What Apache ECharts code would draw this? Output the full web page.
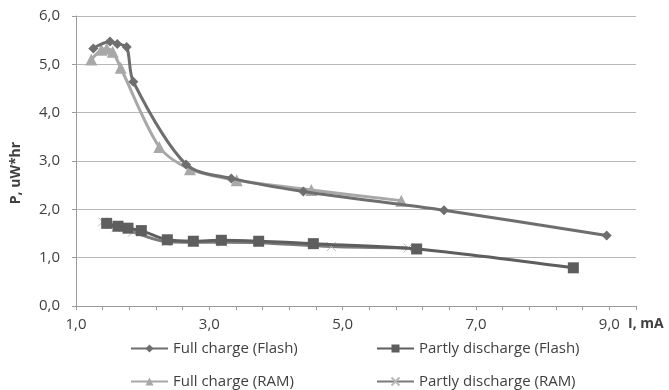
<!DOCTYPE html>
<html>
<head>
<meta charset="utf-8">
<script src="https://cdn.jsdelivr.net/npm/echarts@6/dist/echarts.min.js"></script>
<style>
  html, body { margin: 0; padding: 0; background: #fff; }
  #chart { width: 669px; height: 390px; }
</style>
</head>
<body>
<div id="chart"></div>
<script>
const FONT = "'Open Sans', 'Noto Sans', sans-serif"

// [I, mA ; P, uW*hr]
const fullFlash = [[1.26, 5.33], [1.51, 5.47], [1.62, 5.42], [1.76, 5.36], [1.86, 4.64],
  [2.65, 2.93], [3.33, 2.64], [4.41, 2.37], [6.52, 1.98], [8.96, 1.46]]
const partFlash = [[1.46, 1.71], [1.63, 1.65], [1.78, 1.61], [1.98, 1.56], [2.37, 1.37],
  [2.76, 1.34], [3.18, 1.36], [3.74, 1.34], [4.56, 1.29], [6.11, 1.18], [8.46, 0.79]]
const fullRam = [[1.23, 5.1], [1.38, 5.3], [1.46, 5.32], [1.55, 5.26], [1.67, 4.93],
  [2.25, 3.29], [2.71, 2.83], [3.41, 2.6], [4.53, 2.4], [5.88, 2.18]]
const partRam = [[1.4, 1.74], [1.6, 1.62], [1.85, 1.53], [2.35, 1.33], [2.75, 1.32],
  [3.2, 1.32], [3.75, 1.31], [4.83, 1.23], [5.98, 1.2]]

const names = ['Full charge (Flash)', 'Partly discharge (Flash)', 'Full charge (RAM)', 'Partly discharge (RAM)']

const fmt = v => v.toFixed(1).replace('.', ',')
const TXT = '#404040'

function legendAt(name, left, top) {
  return {
    data: [name], left, top, padding: 0, itemGap: 0,
    itemWidth: 37, itemHeight: 10,
    textStyle: { fontFamily: FONT, fontSize: 15, color: TXT }
  }
}

const chart = echarts.init(document.getElementById('chart'))
chart.setOption({
  animation: false,
  textStyle: { fontFamily: FONT },
  grid: { left: 76, right: 33, top: 16, bottom: 84, containLabel: false },
  legend: [
    legendAt(names[0], 130, 341),
    legendAt(names[1], 376, 341),
    legendAt(names[2], 130, 374),
    legendAt(names[3], 376, 374)
  ],
  xAxis: {
    type: 'value', min: 1, max: 9.4, interval: 0.4,
    axisLine: { lineStyle: { color: '#9a9a9a', width: 1 } },
    axisTick: { show: true, length: 4, lineStyle: { color: '#9a9a9a' } },
    splitLine: { show: false },
    axisLabel: {
      fontFamily: FONT, fontSize: 15, color: TXT, margin: 11,
      formatter: v => {
        const r = Math.round(v)
        return Math.abs(v - r) < 1e-6 && r % 2 === 1 ? fmt(r) : ''
      }
    }
  },
  yAxis: {
    type: 'value', min: 0, max: 6, interval: 1,
    axisLine: { show: true, lineStyle: { color: '#9a9a9a', width: 1 } },
    axisTick: { show: true, length: 4, lineStyle: { color: '#9a9a9a' } },
    splitLine: { lineStyle: { color: '#b8b8b8', width: 1 } },
    axisLabel: { fontFamily: FONT, fontSize: 15, color: TXT, margin: 16, formatter: v => fmt(v) }
  },
  graphic: [
    {
      type: 'text', x: 16, y: 173, rotation: Math.PI / 2,
      style: { text: 'P, uW*hr', fontFamily: FONT, fontSize: 14, fontWeight: 'bold', fill: TXT, align: 'center', verticalAlign: 'middle' }
    },
    {
      type: 'text', left: 628, top: 317,
      style: { text: 'I, mA', fontFamily: FONT, fontSize: 14, fontWeight: 'bold', fill: TXT }
    }
  ],
  series: [
    {
      name: names[3], type: 'line', data: partRam, smooth: 0.3,
      symbol: 'path://M0,0L10,10M10,0L0,10', symbolSize: 9,
      lineStyle: { color: '#7a7a7a', width: 3 },
      itemStyle: { color: '#7a7a7a', borderColor: '#b8b8b8', borderWidth: 1 }, z: 2
    },
    {
      name: names[2], type: 'line', data: fullRam, smooth: 0.3,
      symbol: 'triangle', symbolSize: 12,
      lineStyle: { color: '#a8a8a8', width: 3 },
      itemStyle: { color: '#a8a8a8' }, z: 3
    },
    {
      name: names[0], type: 'line', data: fullFlash, smooth: 0.3,
      symbol: 'diamond', symbolSize: 10,
      lineStyle: { color: '#6e6e6e', width: 3 },
      itemStyle: { color: '#6e6e6e' }, z: 4
    },
    {
      name: names[1], type: 'line', data: partFlash, smooth: 0.3,
      symbol: 'rect', symbolSize: 11,
      lineStyle: { color: '#5e5e5e', width: 3 },
      itemStyle: { color: '#5e5e5e' }, z: 5
    }
  ]
})
</script>
</body>
</html>
